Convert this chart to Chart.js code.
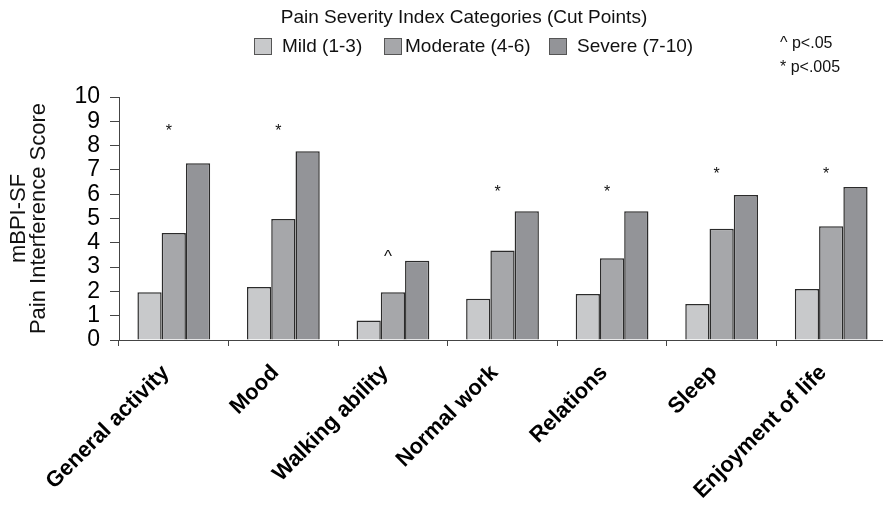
<!DOCTYPE html>
<html>
<head>
<meta charset="utf-8">
<script src="https://cdn.jsdelivr.net/npm/chart.js@4.4.1/dist/chart.umd.min.js"></script>
<style>
  html, body { margin: 0; padding: 0; background: #fff; overflow: hidden; }
  #wrap { width: 883px; height: 506px; overflow: hidden; }
</style>
</head>
<body>
<div id="wrap"><canvas id="chart" width="886" height="506"></canvas></div>
<script>
// ── Data ──────────────────────────────────
const categories = ['General activity', 'Mood', 'Walking ability', 'Normal work', 'Relations', 'Sleep', 'Enjoyment of life'];
const mild = [1.97, 2.18, 0.8, 1.7, 1.89, 1.48, 2.1];
const moderate = [4.4, 4.98, 1.97, 3.68, 3.36, 4.58, 4.68];
const severe = [7.27, 7.77, 3.26, 5.3, 5.3, 5.97, 6.3];
const seriesLabels = ['Mild (1-3)', 'Moderate (4-6)', 'Severe (7-10)'];
const sigMarks = ['*', '*', '^', '*', '*', '*', '*'];
const sigLevels = [8.68, 8.68, 3.58, 6.18, 6.18, 6.93, 6.93];
const pNotes = ['^ p<.05', '* p<.005'];
const legendTitle = 'Pain Severity Index Categories (Cut Points)';

const FONT = "'Liberation Sans', Arial, Helvetica, sans-serif";
const COLORS = ['#c8c9cb', '#a6a7aa', '#939498'];

// ── Legend + p-value notes ────────────────
const legendBoxX = [254, 384, 549];
const legendTextX = [282, 405, 577];

const headerPlugin = {
  id: 'header',
  afterDraw(chart) {
    const c = chart.ctx;
    c.save();
    c.fillStyle = '#111';
    c.font = `19px ${FONT}`;
    c.textAlign = 'center';
    c.textBaseline = 'middle';
    c.fillText(legendTitle, 464, 18);
    c.textAlign = 'left';
    chart.data.datasets.forEach((ds, i) => {
      const bx = legendBoxX[i];
      c.fillStyle = ds.backgroundColor;
      c.fillRect(bx, 38.5, 18, 16);
      c.strokeStyle = '#555';
      c.lineWidth = 1;
      c.strokeRect(bx + 0.5, 38.5, 17, 16);
      c.fillStyle = '#111';
      c.fillText(ds.label, legendTextX[i], 47);
    });
    c.font = `16px ${FONT}`;
    c.fillText(pNotes[0], 780, 44);
    c.fillText(pNotes[1], 780, 68);
    c.restore();
  }
};

// ── Significance marks above groups ───────
const sigPlugin = {
  id: 'sig',
  afterDatasetsDraw(chart) {
    const c = chart.ctx;
    const xs = chart.scales.x, ys = chart.scales.y;
    c.save();
    c.fillStyle = '#111';
    c.textAlign = 'center';
    c.textBaseline = 'middle';
    sigMarks.forEach((m, i) => {
      const x = xs.getPixelForValue(i) - 5;
      const y = ys.getPixelForValue(sigLevels[i]);
      if (m === '*') {
        c.font = `16px ${FONT}`;
        c.fillText(m, x, y + 3);
      } else {
        c.font = `17px ${FONT}`;
        c.fillText(m, x, y + 4);
      }
    });
    c.restore();
  }
};

new Chart(document.getElementById('chart'), {
  type: 'bar',
  data: {
    labels: categories,
    datasets: [mild, moderate, severe].map((d, i) => ({
      label: seriesLabels[i],
      data: d,
      backgroundColor: COLORS[i],
    })),
  },
  options: {
    responsive: false,
    animation: false,
    layout: { padding: { top: 97, left: 6, right: 0, bottom: 0 } },
    datasets: {
      bar: { categoryPercentage: 0.664, barPercentage: 1, borderWidth: 1.5, borderColor: '#2b2b2b' },
    },
    plugins: { legend: { display: false }, tooltip: { enabled: false } },
    scales: {
      x: {
        grid: { drawOnChartArea: false, tickLength: 6, color: '#444' },
        border: { color: '#444' },
        ticks: {
          autoSkip: false, minRotation: 45, maxRotation: 45, padding: 14, labelOffset: -8, color: '#000',
          font: { family: FONT, size: 22, weight: 'bold' },
        },
        afterFit: s => { s.height = 166; },
      },
      y: {
        min: 0, max: 10,
        ticks: { stepSize: 1, autoSkip: false, padding: 10, color: '#000', font: { family: FONT, size: 23 } },
        grid: { drawOnChartArea: false, tickLength: 9, color: '#444' },
        border: { color: '#444' },
        title: {
          display: true, text: ['mBPI-SF', 'Pain Interference Score'], color: '#111',
          font: { family: FONT, size: 22, lineHeight: 0.92 }, padding: { top: 3, bottom: 0 },
        },
        afterFit: s => { s.width = 113; },
      },
    },
  },
  plugins: [headerPlugin, sigPlugin],
});
</script>
</body>
</html>
